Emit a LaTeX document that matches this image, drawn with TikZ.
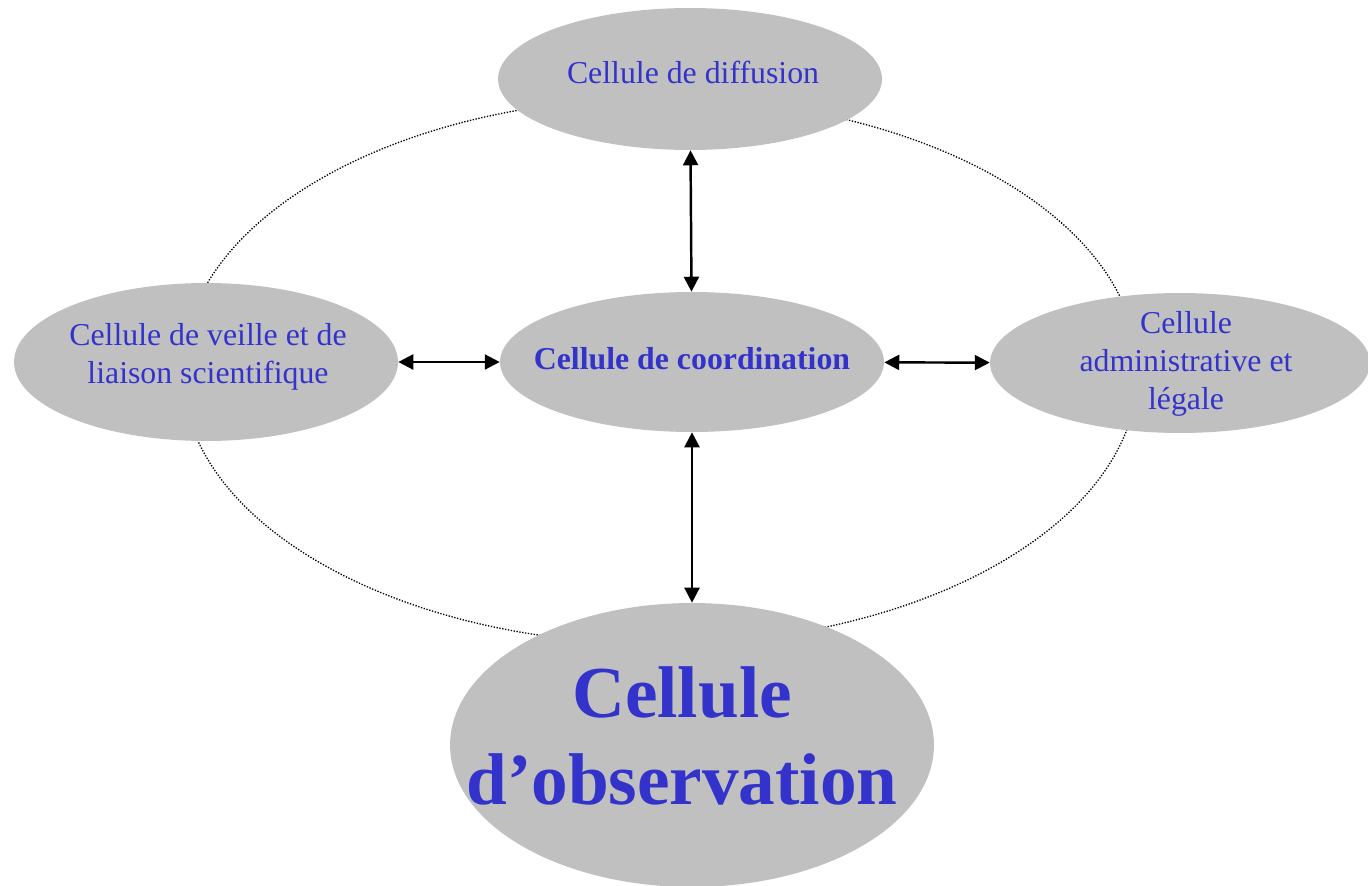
\documentclass[tikz,border=0pt]{standalone}
\usepackage{fontspec}
\setmainfont{Liberation Serif}
\usetikzlibrary{shapes.geometric,arrows.meta}
\definecolor{cellgray}{RGB}{192,192,192}
\definecolor{celltext}{RGB}{51,51,204}
\tikzset{
  cell/.style={ellipse,fill=cellgray,draw=none,inner sep=0pt},
  lbl/.style={text=celltext,align=center,inner sep=0pt,font=\fontsize{18.1pt}{21.5pt}\selectfont},
  biglbl/.style={text=celltext,align=center,inner sep=0pt,font=\fontsize{41.7pt}{50pt}\selectfont\bfseries},
  link/.style={line width=1.4pt,{Triangle[length=8.5pt,width=8.5pt]}-{Triangle[length=8.5pt,width=8.5pt]}},
  ring/.style={line width=0.75pt,dash pattern=on 0.75pt off 0.9pt}
}
\begin{document}
\begin{tikzpicture}[x=0.02cm,y=-0.02cm]
\useasboundingbox (0,0) rectangle (1368,885);
\draw[ring] (660,371) ellipse [x radius=9.56cm, y radius=5.46cm];
\node[cell,minimum width=7.68cm,minimum height=2.84cm] (top) at (690,79) {};
\node[cell,minimum width=7.68cm,minimum height=3.16cm] (left) at (206,362) {};
\node[cell,minimum width=7.68cm,minimum height=2.8cm] (mid) at (692,362) {};
\node[cell,minimum width=7.6cm,minimum height=2.8cm] (right) at (1180,363) {};
\node[cell,minimum width=9.68cm,minimum height=5.68cm] (bot) at (692,745) {};
\node[lbl] (ttop) at (693,72) {Cellule de diffusion};
\node[lbl] (tleft) at (208,357) {Cellule de veille et de\\liaison scientifique};
\node[lbl,font=\fontsize{18.1pt}{21.5pt}\selectfont\bfseries] (tmid) at (692,359) {Cellule de coordination};
\node[lbl] (tright) at (1186,364) {Cellule\\administrative et\\légale};
\node[biglbl] (tbot) at (682,736) {Cellule\\d’observation};
\draw[link] (top) -- (mid);
\draw[link] (left) -- (mid);
\draw[link] (mid) -- (right);
\draw[link] (mid) -- (bot);
\end{tikzpicture}
\end{document}
